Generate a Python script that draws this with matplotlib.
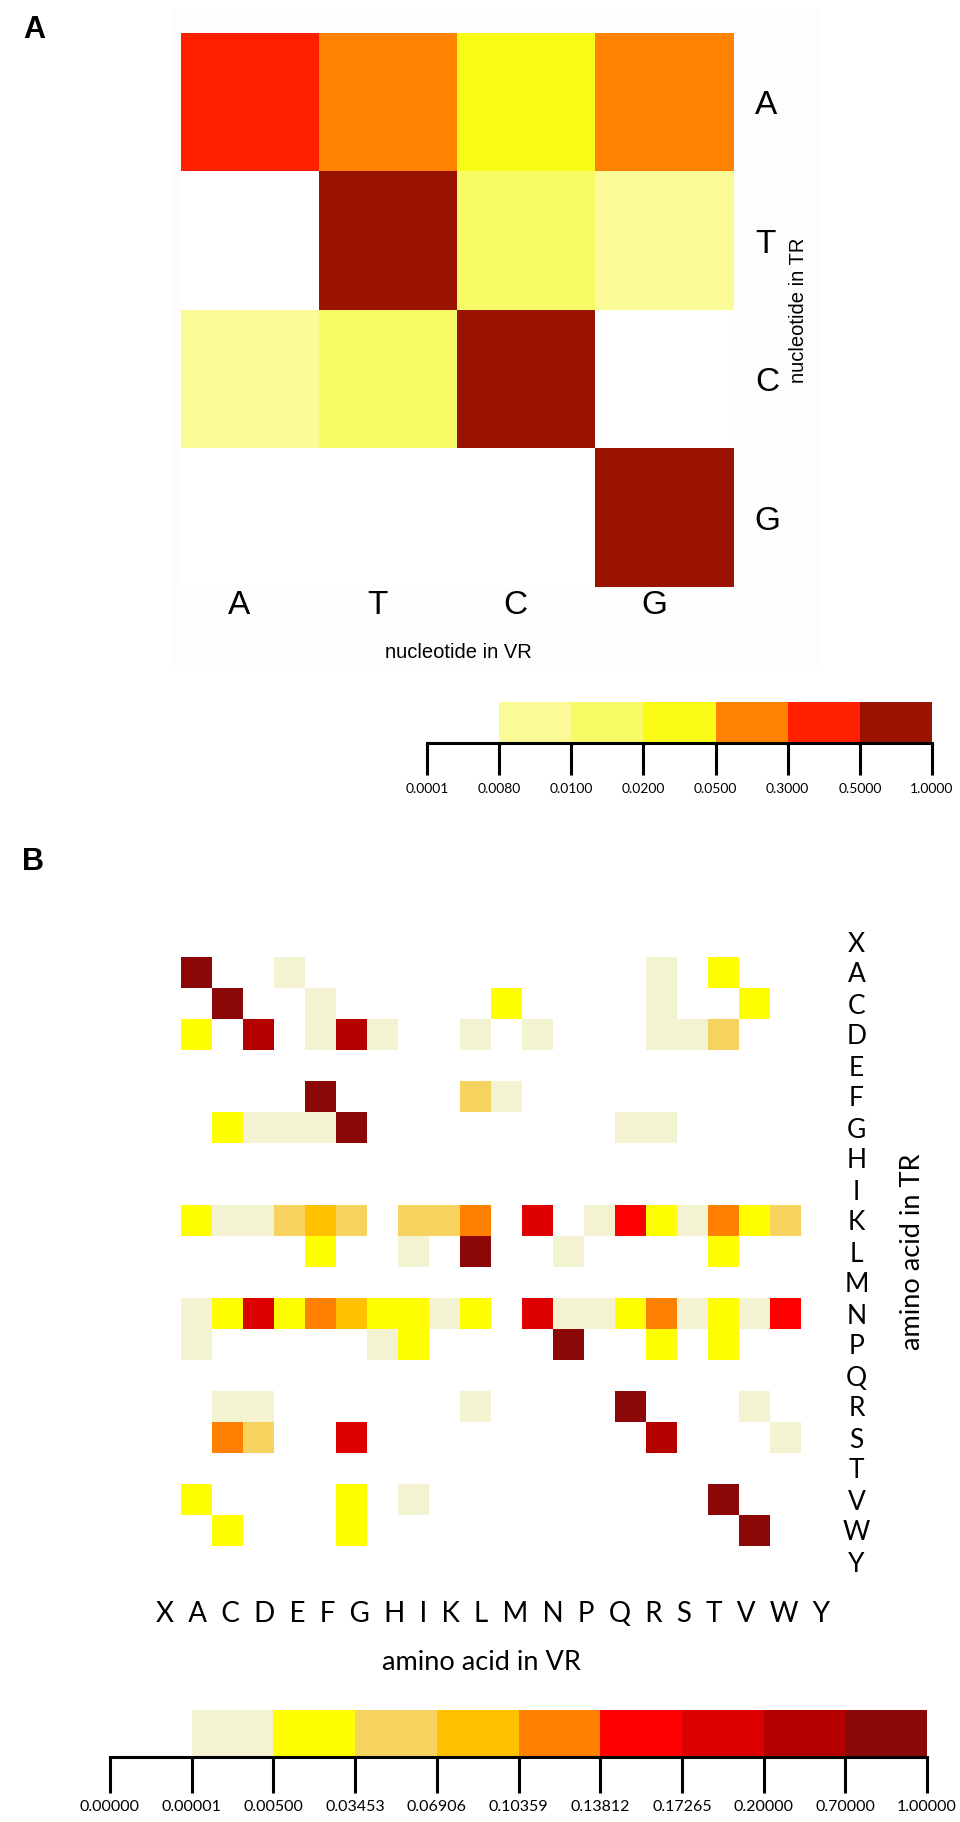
import numpy as np
import matplotlib.pyplot as plt
from matplotlib.colors import ListedColormap, BoundaryNorm
from matplotlib.patches import Rectangle

# ---- panel A data: nucleotide substitution frequencies (rows = TR, cols = VR)
nt = ['A', 'T', 'C', 'G']
freq_nt = [[0.40, 0.10, 0.03, 0.10],
           [0.0, 0.80, 0.015, 0.009],
           [0.009, 0.015, 0.80, 0.0],
           [0.0, 0.0, 0.0, 0.80]]
bounds_nt = [0.0001, 0.008, 0.01, 0.02, 0.05, 0.3, 0.5, 1.0]
colors_nt = ['#FAFB96', '#F9FB66', '#F9FB17', '#FF8300', '#FF2000', '#991300']

# ---- panel B data: amino acid substitution frequencies (rows = TR, cols = VR)
aa = ['X', 'A', 'C', 'D', 'E', 'F', 'G', 'H', 'I', 'K', 'L',
      'M', 'N', 'P', 'Q', 'R', 'S', 'T', 'V', 'W', 'Y']
#          X  A     C     D     E     F     G     H     I     K     L     M     N     P     Q     R     S     T     V     W     Y
freq_aa = [[0, 0,    0,    0,    0,    0,    0,    0,    0,    0,    0,    0,    0,    0,    0,    0,    0,    0,    0,    0,    0],
           [0, .85,  0,    0,    .001, 0,    0,    0,    0,    0,    0,    0,    0,    0,    0,    0,    .001, 0,    .02,  0,    0],
           [0, 0,    .85,  0,    0,    .001, 0,    0,    0,    0,    0,    .02,  0,    0,    0,    0,    .001, 0,    0,    .02,  0],
           [0, .02,  0,    .45,  0,    .001, .45,  .001, 0,    0,    .001, 0,    .001, 0,    0,    0,    .001, .001, .05,  0,    0],
           [0, 0,    0,    0,    0,    0,    0,    0,    0,    0,    0,    0,    0,    0,    0,    0,    0,    0,    0,    0,    0],
           [0, 0,    0,    0,    0,    .85,  0,    0,    0,    0,    .05,  .001, 0,    0,    0,    0,    0,    0,    0,    0,    0],
           [0, 0,    .02,  .001, .001, .001, .85,  0,    0,    0,    0,    0,    0,    0,    0,    .001, .001, 0,    0,    0,    0],
           [0, 0,    0,    0,    0,    0,    0,    0,    0,    0,    0,    0,    0,    0,    0,    0,    0,    0,    0,    0,    0],
           [0, 0,    0,    0,    0,    0,    0,    0,    0,    0,    0,    0,    0,    0,    0,    0,    0,    0,    0,    0,    0],
           [0, .02,  .001, .001, .05,  .085, .05,  0,    .05,  .05,  .12,  0,    .185, 0,    .001, .155, .02,  .001, .12,  .02,  .05],
           [0, 0,    0,    0,    0,    .02,  0,    0,    .001, 0,    .85,  0,    0,    .001, 0,    0,    0,    0,    .02,  0,    0],
           [0, 0,    0,    0,    0,    0,    0,    0,    0,    0,    0,    0,    0,    0,    0,    0,    0,    0,    0,    0,    0],
           [0, .001, .02,  .185, .02,  .12,  .085, .02,  .02,  .001, .02,  0,    .185, .001, .001, .02,  .12,  .001, .02,  .001, .155],
           [0, .001, 0,    0,    0,    0,    0,    .001, .02,  0,    0,    0,    0,    .85,  0,    0,    .02,  0,    .02,  0,    0],
           [0, 0,    0,    0,    0,    0,    0,    0,    0,    0,    0,    0,    0,    0,    0,    0,    0,    0,    0,    0,    0],
           [0, 0,    .001, .001, 0,    0,    0,    0,    0,    0,    .001, 0,    0,    0,    0,    .85,  0,    0,    0,    .001, 0],
           [0, 0,    .12,  .05,  0,    0,    .185, 0,    0,    0,    0,    0,    0,    0,    0,    0,    .45,  0,    0,    0,    .001],
           [0, 0,    0,    0,    0,    0,    0,    0,    0,    0,    0,    0,    0,    0,    0,    0,    0,    0,    0,    0,    0],
           [0, .02,  0,    0,    0,    0,    .02,  0,    .001, 0,    0,    0,    0,    0,    0,    0,    0,    0,    .85,  0,    0],
           [0, 0,    .02,  0,    0,    0,    .02,  0,    0,    0,    0,    0,    0,    0,    0,    0,    0,    0,    0,    .85,  0],
           [0, 0,    0,    0,    0,    0,    0,    0,    0,    0,    0,    0,    0,    0,    0,    0,    0,    0,    0,    0,    0]]
bounds_aa = [0.0, 0.00001, 0.005, 0.03453, 0.06906, 0.10359, 0.13812,
             0.17265, 0.2, 0.7, 1.0]
colors_aa = ['#F3F3D2', '#FFFF00', '#F6D35E', '#FFC000', '#FF8000',
             '#FF0000', '#DE0000', '#B40000', '#8C0808']

W, H = 960, 1822
fig = plt.figure(figsize=(W / 100, H / 100), dpi=100)
ARIAL = 'Liberation Sans'
CAL = 'Lato'


def px_axes(x0, y0, x1, y1):
    # pixel box (top-left origin) -> figure axes
    return fig.add_axes([x0 / W, 1 - y1 / H, (x1 - x0) / W, (y1 - y0) / H])


def fy(y):
    return 1 - y / H


def make_cmap(colors):
    cm = ListedColormap(colors)
    cm.set_under('white')
    cm.set_bad('white')
    return cm


def draw_scale(ax, bounds, colors, fmt, fontsize, ticklen, pad):
    n = len(bounds)
    for i, c in enumerate(colors):
        ax.bar(i + 1.5, 1, width=1, color=c, linewidth=0)
    ax.set_xlim(0, n - 1)
    ax.set_ylim(0, 1)
    for s in ['top', 'left', 'right']:
        ax.spines[s].set_visible(False)
    ax.spines['bottom'].set_linewidth(2.2)
    ax.set_yticks([])
    ax.set_xticks(range(n))
    ax.set_xticklabels([fmt.format(b) for b in bounds], fontsize=fontsize,
                       family=CAL)
    ax.tick_params(axis='x', direction='out', length=ticklen, width=2.2,
                   pad=pad)


# ---------------- panel A ----------------
fig.patches.append(Rectangle((172 / W, fy(667)), (820 - 172) / W, (667 - 8) / H,
                             transform=fig.transFigure, facecolor='#FDFDFD',
                             edgecolor='none', zorder=-5))
fig.text(23 / W, fy(38), 'A', fontsize=22, fontweight='bold', family=ARIAL,
         ha='left', va='baseline')

axA = px_axes(181, 33, 734, 587)
cmapA = make_cmap(colors_nt)
normA = BoundaryNorm(bounds_nt[1:], len(colors_nt))
axA.imshow(np.array(freq_nt), cmap=cmapA, norm=normA, aspect='auto',
           interpolation='nearest')
for s in axA.spines.values():
    s.set_visible(False)
axA.set_xticks(np.arange(len(nt)) - 0.08)
axA.set_xticklabels(nt, fontsize=24, family=ARIAL)
axA.yaxis.tick_right()
axA.set_yticks(np.arange(len(nt)))
axA.set_yticklabels(nt, fontsize=24, family=ARIAL)
axA.tick_params(axis='x', length=0, pad=2)
axA.tick_params(axis='y', length=0, pad=15)
axA.set_xlim(-0.5, 3.5)
axA.set_ylim(3.5, -0.5)
fig.text(458 / W, fy(653), 'nucleotide in VR', fontsize=14.5, family=ARIAL,
         ha='center', va='center')
fig.text(799 / W, fy(310), 'nucleotide in TR', fontsize=14.5, family=ARIAL,
         ha='center', va='center', rotation=90)

cbA = px_axes(427, 702, 932, 743)
draw_scale(cbA, bounds_nt, colors_nt, '{:.4f}', 10, 23, 6)

# ---------------- panel B ----------------
fig.text(22 / W, fy(870), 'B', fontsize=22, fontweight='bold', family=ARIAL,
         ha='left', va='baseline')

axB = px_axes(150, 926, 801, 1577)
cmapB = make_cmap(colors_aa)
normB = BoundaryNorm(bounds_aa[1:], len(colors_aa))
axB.imshow(np.array(freq_aa), cmap=cmapB, norm=normB, aspect='auto',
           interpolation='nearest')
for s in axB.spines.values():
    s.set_visible(False)
axB.set_xticks([])
axB.yaxis.tick_right()
axB.set_yticks(np.arange(len(aa)))
axB.set_yticklabels(aa, fontsize=19, family=CAL, ha='center')
axB.tick_params(axis='y', length=0, pad=40)
axB.set_xlim(-0.5, len(aa) - 0.5)
axB.set_ylim(len(aa) - 0.5, -0.5)

fig.text(493 / W, fy(1622), '  '.join(aa), fontsize=20, family=CAL,
         ha='center', va='baseline')
fig.text(481 / W, fy(1663), 'amino acid in VR', fontsize=19.5, family=CAL,
         ha='center', va='center')
fig.text(912 / W, fy(1252), 'amino acid in TR', fontsize=19.5, family=CAL,
         ha='center', va='center', rotation=90)

cbB = px_axes(110, 1710, 927, 1757)
draw_scale(cbB, bounds_aa, colors_aa, '{:.5f}', 11.5, 26, 5)

fig.savefig('out.png', dpi=100)
